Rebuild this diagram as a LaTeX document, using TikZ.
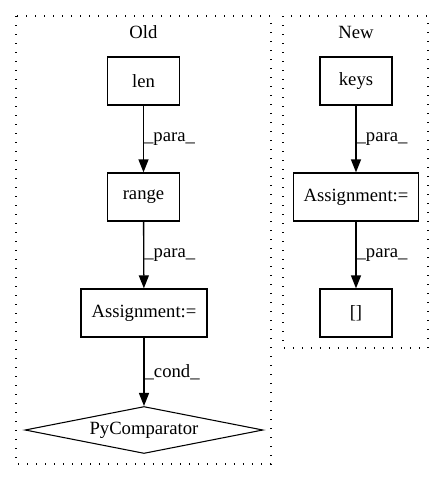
\documentclass[tikz,border=0pt]{standalone}
\usepackage{fontspec}
\setmainfont{Liberation Serif}
\usetikzlibrary{shapes.geometric, arrows.meta}

\begin{document}
\begin{tikzpicture}[x = 0.75pt, y = -0.75pt, font = \fontsize{14}{16}\selectfont,
		box/.style = {draw, line width = 1pt, minimum width = 54pt, minimum height = 36pt, inner sep = 0pt},
		cmpbox/.style = {draw, diamond, aspect = 5, line width = 0.8pt, minimum width = 178.5pt, minimum height = 35.25pt, inner sep = 0pt},
		cluster/.style = {draw, line width = 1pt, dash pattern = on 1pt off 5.75pt},
		flow/.style = {-{Triangle[length = 9.75pt, width = 7.5pt]}, line width = 1pt}]
		\useasboundingbox (0,0) rectangle (445,480);
		
		% clusters
		\draw [cluster] (16,16) rectangle (271,464);
		\draw [cluster] (283,16) rectangle (428,348);
		\node (old) at (143.5,32) {Old};
		\node (new) at (356,32) {New};
		
		% old version
		\node [box] (len) at (143.5,81) {len};
		\node [box] (range) at (143.5,197) {range};
		\node [box, minimum width = 94.5pt] (assignold) at (144,313) {Assignment:=};
		\node [cmpbox] (cmp) at (144,430) {PyComparator};
		
		% new version
		\node [box] (keys) at (356,81) {keys};
		\node [box, minimum width = 93.75pt] (assignnew) at (356,197) {Assignment:=};
		\node [box] (idx) at (356,313) {[]};
		
		\begin{scope}[flow]
			\draw (len) -- (range) node [midway, right, inner sep = 0pt] {\_para\_};
			\draw (range) -- (assignold) node [midway, right, inner sep = 0pt] {\_para\_};
			\draw (assignold) -- (cmp) node [midway, right, inner sep = 0pt] {\_cond\_};
			\draw (keys) -- (assignnew) node [midway, right, inner sep = 0pt] {\_para\_};
			\draw (assignnew) -- (idx) node [midway, right, inner sep = 0pt] {\_para\_};
		\end{scope}
	\end{tikzpicture}
\end{document}
